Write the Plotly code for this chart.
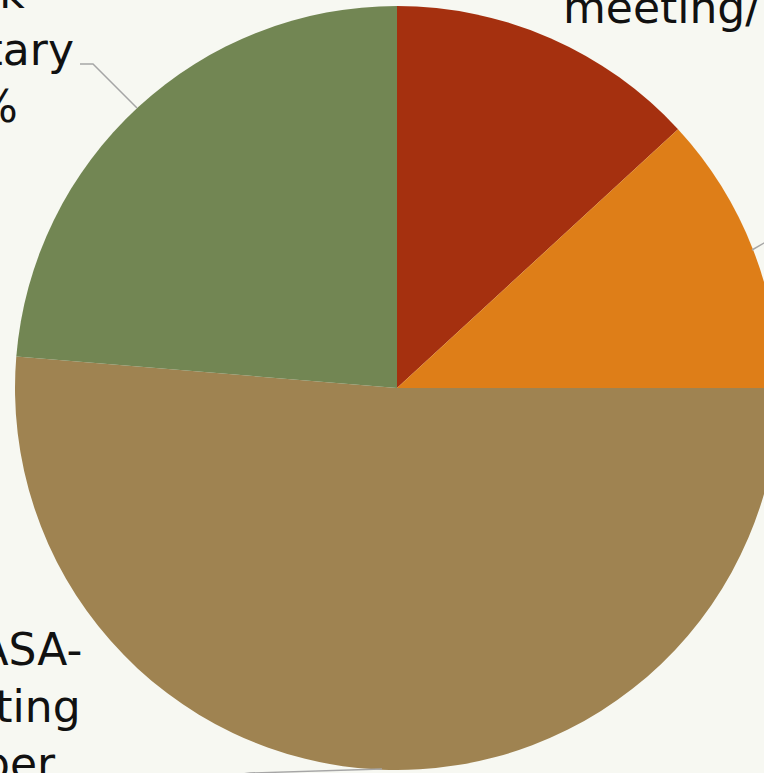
import plotly.graph_objects as go

# Data
categories = ["Annual meeting/ workshop", "Other", "Non-NASA-supporting member", "Work Voluntary"]
values = [10, 9, 39, 18]
colors = ["#A5300F", "#DE7E18", "#9F8351", "#728653"]
label_texts = ["Annual<br>meeting/ 13%", "Other<br>12%", "Non-NASA-<br>supporting<br>member<br>51%", "Work<br>Voluntary<br>24%"]

W, H = 794, 773

def px(x):
    return x / W

def py(y):
    return 1 - y / H

fig = go.Figure(go.Pie(
    labels=categories,
    values=values,
    sort=False,
    direction="clockwise",
    rotation=0,
    marker=dict(colors=colors, line=dict(width=0)),
    textinfo="none",
    hoverinfo="label+percent",
    domain=dict(x=[0, 1], y=[0.00388, 0.99224]),
    showlegend=False,
))

font = dict(family="DejaVu Sans, sans-serif", size=44, color="#111111")

anns = [
    dict(text=label_texts[0], x=px(561), y=py(-21), xanchor="left", yanchor="middle", align="left"),
    dict(text=label_texts[1], x=px(830), y=py(200), xanchor="left", yanchor="middle", align="center"),
    dict(text=label_texts[2], x=px(-38), y=py(735), xanchor="center", yanchor="middle", align="center"),
    dict(text=label_texts[3], x=px(-31), y=py(50), xanchor="center", yanchor="middle", align="center"),
]
for a in anns:
    a.update(xref="paper", yref="paper", showarrow=False, font=font)

line_style = dict(color="#A6A6A6", width=1.5)
shapes = [
    dict(type="path", path="M %f %f L %f %f L %f %f" % (px(137), py(108), px(93), py(64), px(80), py(64))),
    dict(type="path", path="M %f %f L %f %f" % (px(752), py(250), px(800), py(222))),
    dict(type="path", path="M %f %f L %f %f L %f %f" % (px(382), py(769), px(250), py(773), px(120), py(790))),
]
for s in shapes:
    s.update(xref="paper", yref="paper", line=line_style)

fig.update_layout(
    width=W, height=H,
    margin=dict(l=0, r=0, t=0, b=0),
    paper_bgcolor="#F7F8F2",
    plot_bgcolor="#F7F8F2",
    annotations=anns,
    shapes=shapes,
)

fig.write_html(
    "out.html",
    config={"displayModeBar": False},
    post_script="document.body.style.margin='0';document.body.style.overflow='hidden';document.body.style.background='#F7F8F2';",
)
